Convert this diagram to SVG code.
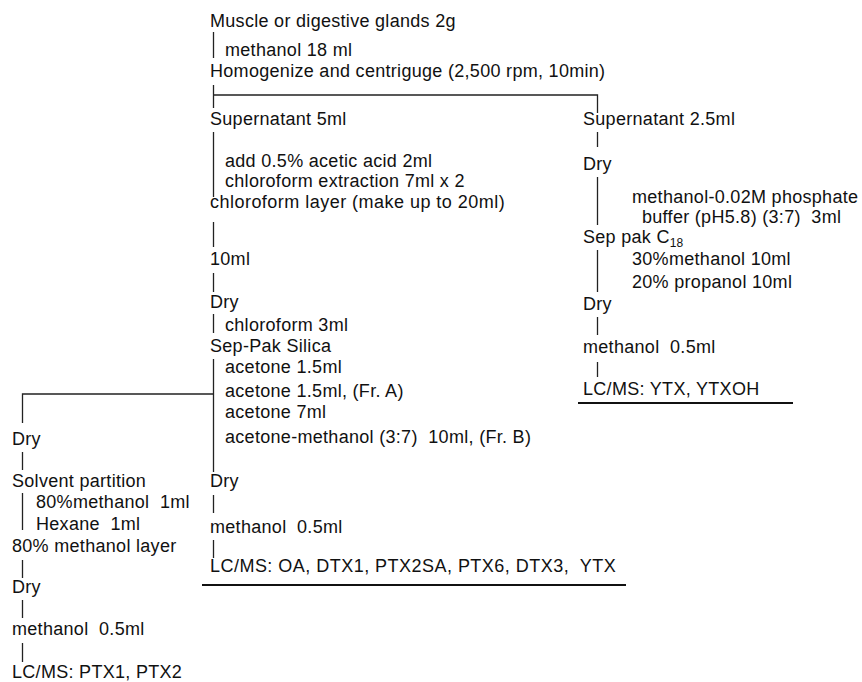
<svg xmlns="http://www.w3.org/2000/svg" width="862" height="682" viewBox="0 0 862 682">
<style>
text{font-family:"Liberation Sans",Arial,sans-serif;font-size:18px;letter-spacing:0.3px;fill:#111}
.ln{stroke:#222;stroke-width:1.3;fill:none}
.ul{stroke:#111;stroke-width:2.2;fill:none}
.sub{font-size:12px;letter-spacing:0}
</style>
<rect width="862" height="682" fill="#fff"/>
<g id="connectors">
<path class="ln" d="M213.5 32V58M213.5 85V108M213.5 95H597.5V113M213.5 132V197M213.5 222V247M213.5 273V292M213.5 314V333M213.5 359V472M213.5 495V513M213.5 540V558"/>
<path class="ln" d="M597.5 132V147M597.5 177V225M597.5 250V292M597.5 317V335M597.5 362V377"/>
<path class="ln" d="M213.5 394H22.5V423M22.5 452V470M22.5 493V530M22.5 560V578M22.5 600V618M22.5 643V662"/>
<path class="ul" d="M202 585H626M578 403H793"/>
</g>
<g id="n-start"><text x="210" y="27">Muscle or digestive glands 2g</text></g>
<g id="e-methanol18"><text x="225" y="56">methanol 18 ml</text></g>
<g id="n-homog"><text x="210" y="77">Homogenize and centriguge (2,500 rpm, 10min)</text></g>
<g id="n-sup5"><text x="210" y="125">Supernatant 5ml</text></g>
<g id="e-acetic"><text x="225" y="167">add 0.5% acetic acid 2ml</text></g>
<g id="e-chlext"><text x="225" y="187">chloroform extraction 7ml x 2</text></g>
<g id="n-chllayer"><text x="210" y="208" textLength="295" lengthAdjust="spacing">chloroform layer (make up to 20ml)</text></g>
<g id="n-10ml"><text x="210" y="265">10ml</text></g>
<g id="n-dry1"><text x="210" y="308">Dry</text></g>
<g id="e-chl3"><text x="225" y="331">chloroform 3ml</text></g>
<g id="n-seppak"><text x="210" y="352">Sep-Pak Silica</text></g>
<g id="e-acetone"><text x="225" y="373">acetone 1.5ml</text><text x="225" y="397">acetone 1.5ml, (Fr. A)</text><text x="225" y="418">acetone 7ml</text><text x="225" y="443" xml:space="preserve">acetone-methanol (3:7)  10ml, (Fr. B)</text></g>
<g id="n-dry2"><text x="210" y="487">Dry</text></g>
<g id="n-meoh2"><text x="210" y="533" xml:space="preserve">methanol  0.5ml</text></g>
<g id="n-lcms1"><text x="210" y="572" xml:space="preserve" textLength="406" lengthAdjust="spacing">LC/MS: OA, DTX1, PTX2SA, PTX6, DTX3,  YTX</text></g>
<g id="n-sup25"><text x="583" y="125">Supernatant 2.5ml</text></g>
<g id="n-dryr1"><text x="583" y="170">Dry</text></g>
<g id="e-buffer"><text x="632" y="203">methanol-0.02M phosphate</text><text x="642" y="223" xml:space="preserve">buffer (pH5.8) (3:7)  3ml</text></g>
<g id="n-sepc18"><text x="583" y="243">Sep pak C<tspan class="sub" dy="4">18</tspan></text></g>
<g id="e-elute"><text x="632" y="265">30%methanol 10ml</text><text x="632" y="288">20% propanol 10ml</text></g>
<g id="n-dryr2"><text x="583" y="310">Dry</text></g>
<g id="n-meohr"><text x="583" y="353" xml:space="preserve">methanol  0.5ml</text></g>
<g id="n-lcmsr"><text x="583" y="395">LC/MS: YTX, YTXOH</text></g>
<g id="n-dryl1"><text x="12" y="445">Dry</text></g>
<g id="n-solvent"><text x="12" y="487">Solvent partition</text></g>
<g id="e-partition"><text x="36" y="508" xml:space="preserve">80%methanol  1ml</text><text x="36" y="530" xml:space="preserve">Hexane  1ml</text></g>
<g id="n-80layer"><text x="12" y="552">80% methanol layer</text></g>
<g id="n-dryl2"><text x="12" y="593">Dry</text></g>
<g id="n-meohl"><text x="12" y="635" xml:space="preserve">methanol  0.5ml</text></g>
<g id="n-lcmsl"><text x="12" y="678">LC/MS: PTX1, PTX2</text></g>
</svg>
